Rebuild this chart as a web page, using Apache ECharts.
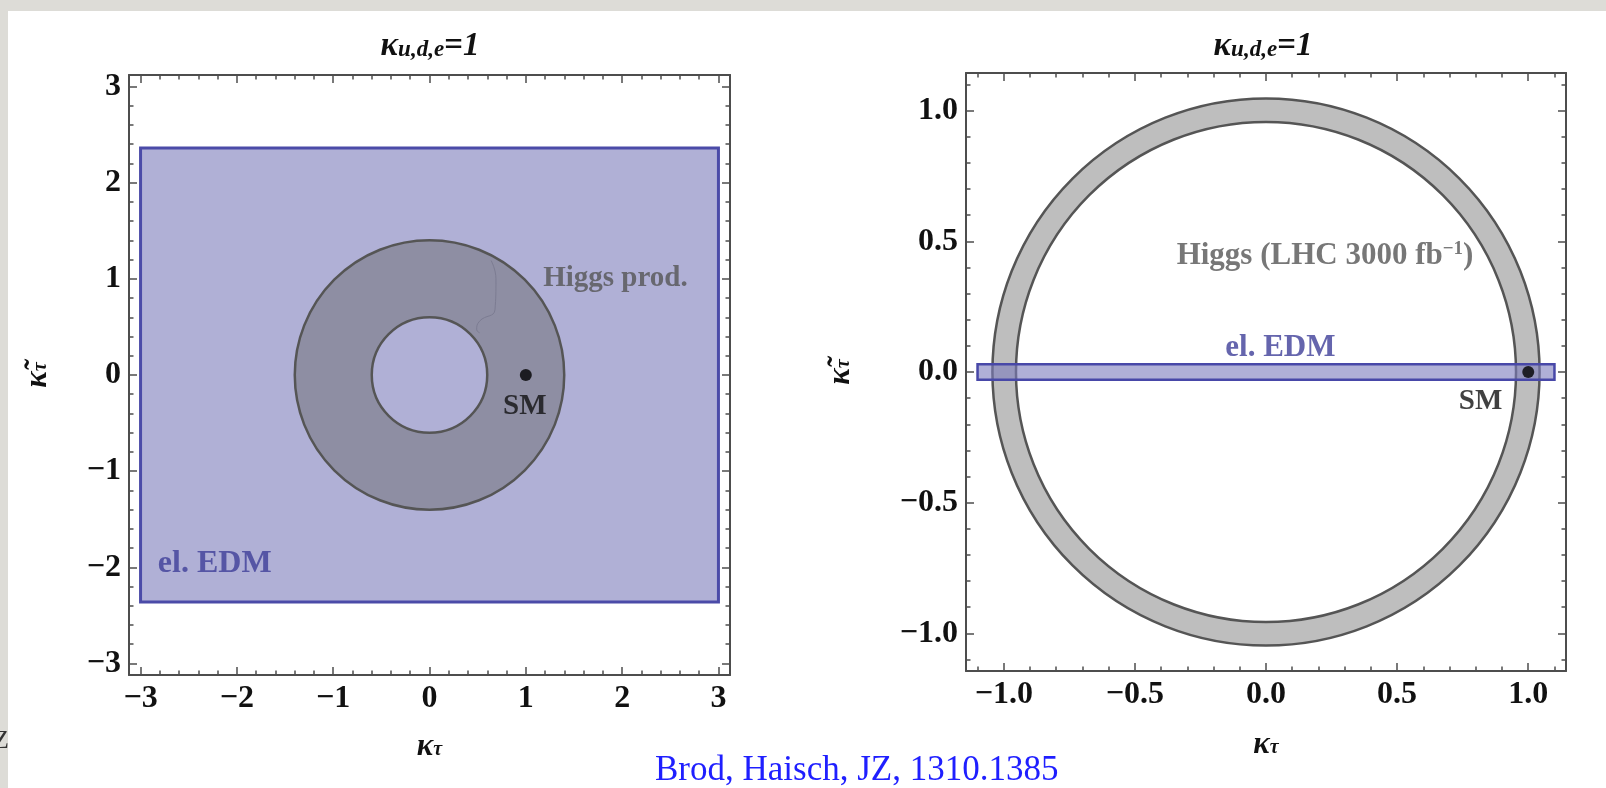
<!DOCTYPE html>
<html>
<head>
<meta charset="utf-8">
<script src="https://cdn.jsdelivr.net/npm/echarts@6/dist/echarts.min.js"></script>
<style>
html, body { margin: 0; padding: 0; background: #dddcd7; }
#chart { width: 1606px; height: 788px; }
</style>
</head>
<body>
<div id="chart"></div>
<script>
// left panel (kappa_tau, tilde kappa_tau), range incl. mathematica padding
const leftRange = [-3.12, 3.12];
const leftMajorTicks = [-3, -2, -1, 0, 1, 2, 3];
const leftMinorTicks = [-2.8, -2.6, -2.4, -2.2, -1.8, -1.6, -1.4, -1.2, -0.8, -0.6, -0.4, -0.2,
  0.2, 0.4, 0.6, 0.8, 1.2, 1.4, 1.6, 1.8, 2.2, 2.4, 2.6, 2.8];
const leftEdmBox = [-3, 3, -2.36, 2.36];        // x0, x1, y0, y1
const leftHiggsRing = [0, 0, 0.6, 1.4];         // cx, cy, r0, r
const leftSM = [1, 0];
const leftArtifact = [[0.64, 1.19], [0.69, 1.0], [0.68, 0.68], [0.52, 0.56], [0.49, 0.47], [0.52, 0.44]];
const leftNotes = [
  { name: 'Higgs prod.', at: [1.93, 1.0] },
  { name: 'el. EDM', at: [-2.23, -1.96] },
  { name: 'SM', at: [0.99, -0.33] }
];

// right panel (LHC 3000 fb^-1)
const rightRange = [-1.144, 1.144];
const rightMajorTicks = [-1, -0.5, 0, 0.5, 1];
const rightMinorTicks = [-1.1, -0.9, -0.8, -0.7, -0.6, -0.4, -0.3, -0.2, -0.1,
  0.1, 0.2, 0.3, 0.4, 0.6, 0.7, 0.8, 0.9, 1.1];
const rightEdmBox = [-1.1, 1.1, -0.03, 0.03];
const rightHiggsRing = [0, 0, 0.955, 1.045];
const rightSM = [1, 0];
const rightNotes = [
  { name: 'Higgs (LHC 3000 fb{sup|−1})', at: [0.225, 0.444] },
  { name: 'el. EDM', at: [0.055, 0.091] },
  { name: 'SM', at: [0.818, -0.114] }
];

const SERIF = '"Liberation Serif", "Times New Roman", serif';
const FRAME = '#4d4d4d';

let chart = echarts.init(document.getElementById('chart'));

function fmtInt(v) { return (v < 0 ? '−' : '') + Math.abs(v); }
function fmtOne(v) { return (v < 0 ? '−' : '') + Math.abs(v).toFixed(1); }

// 4 axes per dim and grid: major+minor on both sides (mathematica frame)
function frameAxes(dim, grid, range, major, minor, fmt, name, nameGap) {
  let sides = dim === 'x' ? ['bottom', 'top'] : ['left', 'right'];
  let out = [];
  sides.forEach((pos, i) => {
    out.push({
      type: 'value', gridIndex: grid, position: pos, min: range[0], max: range[1],
      splitLine: { show: false },
      axisLine: { show: true, onZero: false, lineStyle: { color: FRAME, width: 2 } },
      axisTick: { show: true, inside: true, length: 8, customValues: major, lineStyle: { color: FRAME, width: 1.5 } },
      axisLabel: {
        show: i === 0, customValues: major, formatter: fmt, margin: 8,
        color: '#111', fontFamily: SERIF, fontWeight: 'bold', fontSize: 32
      },
      name: i === 0 ? name : '',
      nameLocation: 'middle',
      nameGap: nameGap,
      nameRotate: dim === 'y' ? 90 : 0,
      nameTextStyle: {
        color: '#111', fontSize: 30,
        rich: {
          k: { fontFamily: SERIF, fontStyle: 'italic', fontWeight: 'bold', fontSize: 31, padding: [0, 0, 6, 0] },
          s: { fontFamily: SERIF, fontStyle: 'italic', fontWeight: 'bold', fontSize: 20 }
        }
      }
    });
    out.push({
      type: 'value', gridIndex: grid, position: pos, min: range[0], max: range[1],
      splitLine: { show: false },
      axisLine: { show: false, onZero: false },
      axisTick: { show: true, inside: true, length: 4.5, customValues: minor, lineStyle: { color: FRAME, width: 1.5 } },
      axisLabel: { show: false }
    });
  });
  return out;
}

function boxItem(fill, stroke, lw) {
  return function (params, api) {
    let p0 = api.coord([api.value(0), api.value(3)]);
    let p1 = api.coord([api.value(1), api.value(2)]);
    return {
      type: 'rect',
      shape: { x: p0[0], y: p0[1], width: p1[0] - p0[0], height: p1[1] - p0[1] },
      style: { fill: fill, stroke: stroke, lineWidth: lw }
    };
  };
}

function ringItem(fill) {
  return function (params, api) {
    let c = api.coord([api.value(0), api.value(1)]);
    let r0 = api.size([api.value(2), api.value(2)]);
    let r = api.size([api.value(3), api.value(3)]);
    return {
      type: 'ring',
      shape: { cx: c[0], cy: c[1], r0: (r0[0] + r0[1]) / 2, r: (r[0] + r[1]) / 2 },
      style: { fill: fill, stroke: '#555', lineWidth: 2.5 }
    };
  };
}

function notesSeries(ax, notes, colors, sizes) {
  return {
    type: 'scatter', xAxisIndex: ax, yAxisIndex: ax, silent: true,
    symbolSize: 1, itemStyle: { color: 'transparent' },
    data: notes.map((n, i) => ({
      value: n.at,
      label: { formatter: n.name, color: colors[i], fontSize: sizes[i] }
    })),
    label: {
      show: true, position: 'inside',
      fontFamily: SERIF, fontWeight: 'bold', fontSize: 29,
      rich: { sup: { fontFamily: SERIF, fontWeight: 'bold', fontSize: 19, color: '#555', padding: [0, 0, 13, 0] } }
    },
    z: 10
  };
}

let titleRich = {
  k: { fontFamily: SERIF, fontStyle: 'italic', fontWeight: 'bold', fontSize: 33, fill: '#111', padding: [0, 0, 7, 0] },
  s: { fontFamily: SERIF, fontStyle: 'italic', fontWeight: 'bold', fontSize: 23, fill: '#111' }
};

let option = {
  backgroundColor: '#dddcd7',
  animation: false,
  graphic: [
    { type: 'text', z: -20, x: -7, y: 728, style: { text: 'Z', font: '26px ' + SERIF, fill: '#333' } },
    { type: 'rect', z: -10, shape: { x: 8, y: 11, width: 1620, height: 800 }, style: { fill: '#ffffff' } },
    { type: 'text', x: 430, y: 50, style: { text: '{k|κ}{s|u,d,e}{k|=1}', rich: titleRich, align: 'center', verticalAlign: 'middle' } },
    { type: 'text', x: 1263, y: 50, style: { text: '{k|κ}{s|u,d,e}{k|=1}', rich: titleRich, align: 'center', verticalAlign: 'middle' } },
    { type: 'text', x: 655, y: 753, style: { text: 'Brod, Haisch, JZ, 1310.1385', font: '35px ' + SERIF, fill: '#1f1fff' } }
  ],
  grid: [
    { left: 129, top: 75, width: 601, height: 600, outerBoundsMode: 'none' },
    { left: 966, top: 73, width: 600, height: 598, outerBoundsMode: 'none' }
  ],
  xAxis: [].concat(
    frameAxes('x', 0, leftRange, leftMajorTicks, leftMinorTicks, fmtInt, '{k|κ}{s|τ}', 56),
    frameAxes('x', 1, rightRange, rightMajorTicks, rightMinorTicks, fmtOne, '{k|κ}{s|τ}', 58)
  ),
  yAxis: [].concat(
    frameAxes('y', 0, leftRange, leftMajorTicks, leftMinorTicks, fmtInt, '{k|κ̃}{s|τ}', 70),
    frameAxes('y', 1, rightRange, rightMajorTicks, rightMinorTicks, fmtOne, '{k|κ̃}{s|τ}', 104)
  ),
  series: [
    // left
    { type: 'custom', xAxisIndex: 0, yAxisIndex: 0, renderItem: boxItem('#b0b0d6', '#4b4ba8', 3), data: [leftEdmBox], z: 2 },
    { type: 'custom', xAxisIndex: 0, yAxisIndex: 0, renderItem: ringItem('#8e8ea3'), data: [leftHiggsRing], z: 3 },
    { type: 'line', xAxisIndex: 0, yAxisIndex: 0, data: leftArtifact, symbol: 'none', smooth: true,
      lineStyle: { color: '#7c7c92', width: 1 }, z: 4 },
    { type: 'scatter', xAxisIndex: 0, yAxisIndex: 0, data: [leftSM], symbolSize: 12, itemStyle: { color: '#000' }, z: 5 },
    notesSeries(0, leftNotes, ['#555555', '#3e3e98', '#111111'], [29, 32, 29]),
    // right
    { type: 'custom', xAxisIndex: 4, yAxisIndex: 4, renderItem: ringItem('#bebebe'), data: [rightHiggsRing], z: 2 },
    { type: 'custom', xAxisIndex: 4, yAxisIndex: 4, renderItem: boxItem('rgba(123,123,188,0.6)', '#4848a8', 2.5), data: [rightEdmBox], z: 3 },
    { type: 'scatter', xAxisIndex: 4, yAxisIndex: 4, data: [rightSM], symbolSize: 12, itemStyle: { color: '#000' }, z: 5 },
    notesSeries(4, rightNotes, ['#555555', '#3e3e98', '#111111'], [31, 31, 29])
  ]
};

chart.setOption(option);
window.addEventListener('resize', function () { chart.resize(); });
</script>
</body>
</html>
